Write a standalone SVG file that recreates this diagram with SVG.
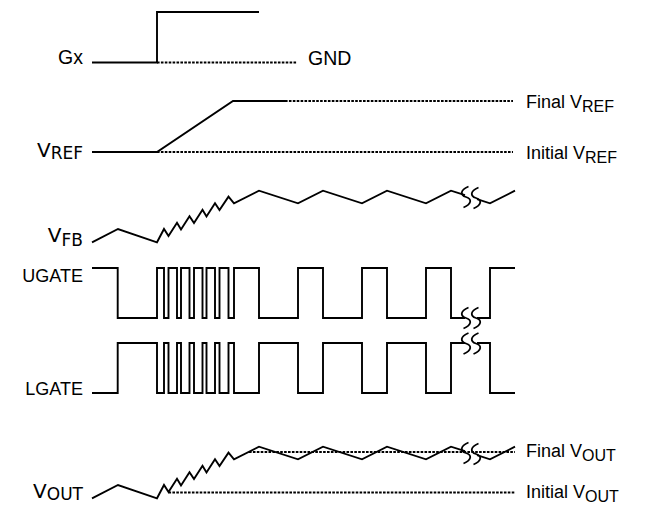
<svg xmlns="http://www.w3.org/2000/svg" xmlns:xlink="http://www.w3.org/1999/xlink" width="645" height="506" viewBox="0 0 645 506">
<style>
.w{fill:none;stroke:#000;stroke-width:1.9;stroke-linejoin:miter;stroke-linecap:butt}
.d{fill:none;stroke:#000;stroke-width:2;stroke-dasharray:2.6 1.3}
.b{fill:none;stroke:#000;stroke-width:1.8}
.t{font-family:"Liberation Sans",Arial,sans-serif;font-size:18px;fill:#000}
.g{font-size:19.5px}
.l{font-family:"DejaVu Sans",Verdana,sans-serif;font-size:20px;fill:#000}
.s{font-size:17px}
.rs{font-size:16px}
</style>
<defs>
<path id="brk" d="M2.5,-10.5 C-6,-7 -6,-2 0,0 C6,2 6,7 -2.5,10.5"/>
</defs>
<rect width="645" height="506" fill="#fff"/>
<g id="gx">
<path class="w" d="M92,62.5 H157 V12 H259"/>
<path class="d" d="M157,62.5 H297"/>
<text class="t g" x="83" y="64" text-anchor="end">Gx</text>
<text class="t g" x="308" y="65">GND</text>
</g>
<g id="vref">
<path class="w" d="M92,152 H157 L233,101 H285"/>
<path class="d" d="M285,101 H513 M157,152 H513"/>
<text class="l" x="83" y="157" text-anchor="end">V<tspan class="s" dy="2">REF</tspan></text>
<text class="t" x="526" y="108">Final V<tspan class="rs" dy="4">REF</tspan></text>
<text class="t" x="526" y="159">Initial V<tspan class="rs" dy="4">REF</tspan></text>
</g>
<g id="vfb">
<path class="w" d="M92,242.3 L118,229 L157,242.3 L164,229 L168.5,236 L177,222.7 L181,229.5 L189.5,216.2 L194,223 L202.5,209.7 L206.5,216.5 L215,203.2 L219.5,210 L228.5,196.7 L234,203.3 L259,190.7 L298,203.3 L323,190.7 L362,203.3 L387,190.7 L426,203.3 L451,190.7 L465,195.2 M477,199.1 L490,203.3 L515,190.7"/>
<use xlink:href="#brk" class="b" transform="translate(466,197)"/>
<use xlink:href="#brk" class="b" transform="translate(476,198)"/>
<text class="l" x="83" y="242" text-anchor="end">V<tspan class="s" dy="4">FB</tspan></text>
</g>
<g id="ugate">
<path class="w" d="M92,268 H117.7 V318 H157 V268 H164 V318 H168.5 V268 H177 V318 H181 V268 H189.5 V318 H194 V268 H202.5 V318 H206.5 V268 H215 V318 H219.5 V268 H228.5 V318 H234 V268 H259 V318 H298 V268 H323 V318 H362 V268 H387 V318 H426 V268 H451 V318 H465 M477,318 H490 V268 H515"/>
<use xlink:href="#brk" class="b" transform="translate(466,318)"/>
<use xlink:href="#brk" class="b" transform="translate(476,318)"/>
<text class="t" x="83" y="282" text-anchor="end">UGATE</text>
</g>
<g id="lgate">
<path class="w" d="M92,393 H117.7 V343 H157 V393 H164 V343 H168.5 V393 H177 V343 H181 V393 H189.5 V343 H194 V393 H202.5 V343 H206.5 V393 H215 V343 H219.5 V393 H228.5 V343 H234 V393 H259 V343 H298 V393 H323 V343 H362 V393 H387 V343 H426 V393 H451 V343 H465 M477,343 H490 V393 H515"/>
<use xlink:href="#brk" class="b" transform="translate(466,343.5)"/>
<use xlink:href="#brk" class="b" transform="translate(476,343.5)"/>
<text class="t" x="83" y="395" text-anchor="end">LGATE</text>
</g>
<g id="vout">
<path class="d" d="M249,452 H515 M168.5,492.5 H515"/>
<path class="w" d="M92,498.3 L118,485 L157,498.3 L164,485 L168.5,492 L177,478.7 L181,485.5 L189.5,472.2 L194,479 L202.5,465.7 L206.5,472.5 L215,459.2 L219.5,466 L228.5,452.7 L234,459.3 L259,446.7 L298,459.3 L323,446.7 L362,459.3 L387,446.7 L426,459.3 L451,446.7 L465,451.2 M477,455.1 L490,459.3 L515,446.7"/>
<use xlink:href="#brk" class="b" transform="translate(466,453)"/>
<use xlink:href="#brk" class="b" transform="translate(476,454)"/>
<text class="l" x="83" y="498" text-anchor="end">V<tspan class="s" dy="2">OUT</tspan></text>
<text class="t" x="526" y="457">Final V<tspan class="rs" dy="4">OUT</tspan></text>
<text class="t" x="526" y="498">Initial V<tspan class="rs" dy="4">OUT</tspan></text>
</g>
</svg>
